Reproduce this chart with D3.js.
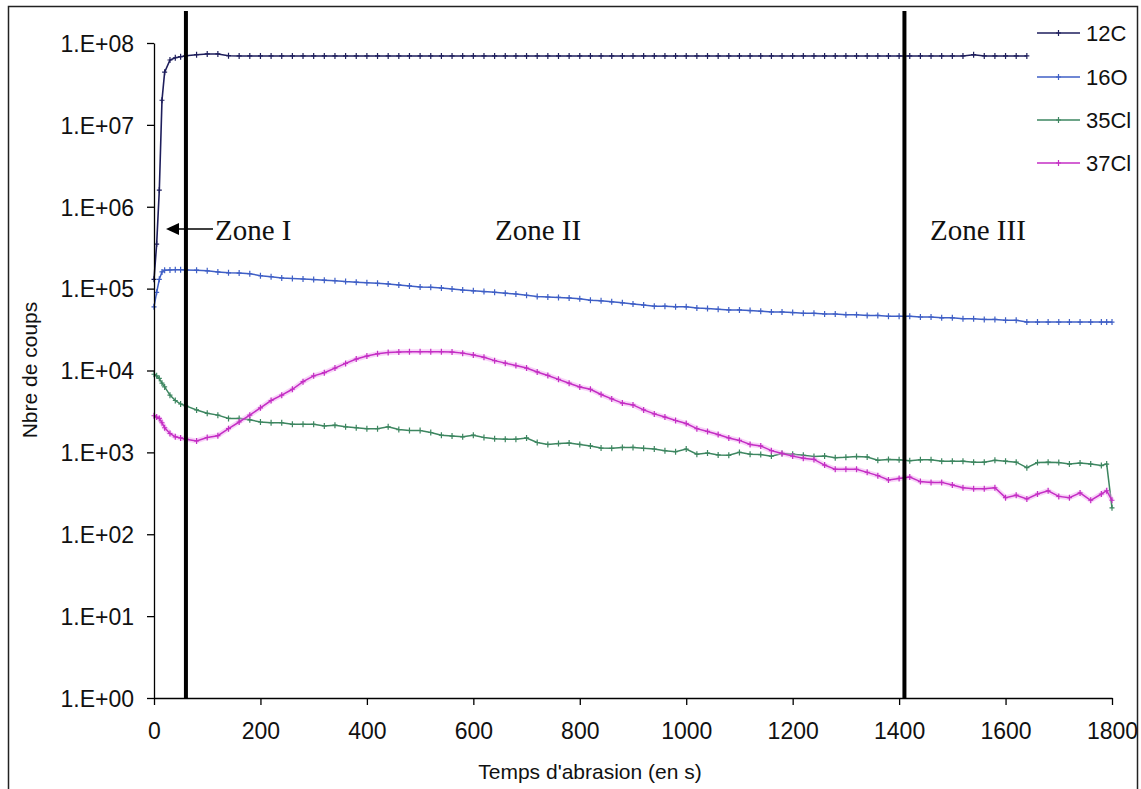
<!DOCTYPE html>
<html>
<head>
<meta charset="utf-8">
<script src="https://cdn.jsdelivr.net/npm/d3@7"></script>
<style>
  html, body { margin: 0; padding: 0; background: #fff; }
  svg { display: block; }
</style>
</head>
<body>
<svg id="chart" width="1141" height="789"></svg>
<script>
// ---------------- DATA ----------------
const times = [0, 5, 10, 15, 20, 30, 40, 50, 60,
  80, 100, 120, 140, 160, 180, 200, 220, 240, 260, 280, 300,
  320, 340, 360, 380, 400, 420, 440, 460, 480, 500,
  520, 540, 560, 580, 600, 620, 640, 660, 680, 700,
  720, 740, 760, 780, 800, 820, 840, 860, 880, 900,
  920, 940, 960, 980, 1000, 1020, 1040, 1060, 1080, 1100,
  1120, 1140, 1160, 1180, 1200, 1220, 1240, 1260, 1280, 1300,
  1320, 1340, 1360, 1380, 1400, 1420, 1440, 1460, 1480, 1500,
  1520, 1540, 1560, 1580, 1600, 1620, 1640, 1660, 1680, 1700,
  1720, 1740, 1760, 1780, 1790, 1800];

const c12 = [1.3e5, 3.5e5, 1.6e6, 2.0e7, 4.4e7, 6.2e7, 6.6e7, 6.8e7, 7.0e7,
  7.2e7, 7.35e7, 7.35e7, 7.0e7, 6.95e7, 6.95e7, 6.95e7, 6.95e7, 6.95e7, 6.95e7, 6.95e7, 6.95e7,
  6.95e7, 6.95e7, 6.95e7, 6.95e7, 6.95e7, 6.95e7, 6.95e7, 6.95e7, 6.95e7, 6.95e7,
  6.95e7, 6.95e7, 6.95e7, 6.95e7, 6.95e7, 6.95e7, 6.95e7, 6.95e7, 6.95e7, 6.95e7,
  6.95e7, 6.95e7, 6.95e7, 6.95e7, 6.95e7, 6.95e7, 6.95e7, 6.95e7, 6.95e7, 6.95e7,
  6.95e7, 6.95e7, 6.95e7, 6.95e7, 6.95e7, 6.95e7, 6.95e7, 6.95e7, 6.95e7, 6.95e7,
  6.95e7, 6.95e7, 6.95e7, 6.95e7, 6.95e7, 6.95e7, 6.95e7, 6.95e7, 6.95e7, 6.95e7,
  6.95e7, 6.95e7, 6.95e7, 6.95e7, 6.95e7, 6.95e7, 6.95e7, 6.95e7, 6.95e7, 6.95e7,
  6.95e7, 7.2e7, 6.95e7, 6.95e7, 6.95e7, 6.95e7, 6.95e7, null, null, null,
  null, null, null, null, null, null];

const o16 = [6.0e4, 9.0e4, 1.3e5, 1.6e5, 1.68e5, 1.69e5, 1.7e5, 1.7e5, 1.69e5,
  1.68e5, 1.65e5, 1.6e5, 1.56e5, 1.55e5, 1.52e5, 1.44e5, 1.4e5, 1.35e5, 1.33e5, 1.31e5, 1.29e5,
  1.27e5, 1.25e5, 1.22e5, 1.2e5, 1.18e5, 1.16e5, 1.14e5, 1.11e5, 1.08e5, 1.05e5,
  1.04e5, 1.02e5, 9.9e4, 9.6e4, 9.4e4, 9.2e4, 9.0e4, 8.8e4, 8.6e4, 8.3e4,
  8.0e4, 7.9e4, 7.8e4, 7.7e4, 7.5e4, 7.2e4, 7.1e4, 6.9e4, 6.7e4, 6.5e4,
  6.3e4, 6.1e4, 6.1e4, 6.0e4, 6.0e4, 5.8e4, 5.7e4, 5.6e4, 5.5e4, 5.5e4,
  5.4e4, 5.3e4, 5.2e4, 5.2e4, 5.1e4, 5.0e4, 5.0e4, 4.9e4, 4.9e4, 4.8e4,
  4.8e4, 4.7e4, 4.7e4, 4.6e4, 4.6e4, 4.6e4, 4.5e4, 4.5e4, 4.4e4, 4.4e4,
  4.3e4, 4.3e4, 4.2e4, 4.2e4, 4.1e4, 4.1e4, 3.9e4, 3.9e4, 3.9e4, 3.9e4,
  3.9e4, 3.9e4, 3.9e4, 3.9e4, 3.9e4, 3.9e4];

const cl35 = [9.0e3, 8.6e3, 8.0e3, 7.0e3, 6.3e3, 5.0e3, 4.3e3, 3.9e3, 3.7e3,
  3.3e3, 3.0e3, 2.85e3, 2.6e3, 2.6e3, 2.5e3, 2.35e3, 2.3e3, 2.3e3, 2.2e3, 2.2e3, 2.2e3,
  2.1e3, 2.15e3, 2.05e3, 2.0e3, 1.95e3, 1.95e3, 2.05e3, 1.9e3, 1.85e3, 1.85e3,
  1.75e3, 1.62e3, 1.58e3, 1.55e3, 1.62e3, 1.52e3, 1.47e3, 1.45e3, 1.45e3, 1.5e3,
  1.32e3, 1.25e3, 1.28e3, 1.3e3, 1.25e3, 1.2e3, 1.13e3, 1.12e3, 1.15e3, 1.15e3,
  1.12e3, 1.1e3, 1.05e3, 1.02e3, 1.1e3, 9.5e2, 9.8e2, 9.3e2, 9.2e2, 1.0e3,
  9.5e2, 9.4e2, 9.0e2, 9.7e2, 9.5e2, 9.2e2, 8.9e2, 9.0e2, 8.6e2, 8.7e2,
  8.9e2, 8.8e2, 8.0e2, 8.2e2, 8.1e2, 7.9e2, 8.1e2, 8.1e2, 7.8e2, 7.8e2,
  7.8e2, 7.6e2, 7.6e2, 8.0e2, 7.8e2, 7.6e2, 6.5e2, 7.5e2, 7.6e2, 7.5e2,
  7.2e2, 7.4e2, 7.2e2, 6.9e2, 7.2e2, 2.1e2];

const cl37 = [2.8e3, 2.7e3, 2.6e3, 2.3e3, 2.0e3, 1.7e3, 1.55e3, 1.5e3, 1.45e3,
  1.38e3, 1.52e3, 1.6e3, 1.95e3, 2.35e3, 2.85e3, 3.5e3, 4.3e3, 5.0e3, 5.9e3, 7.3e3, 8.6e3,
  9.4e3, 1.07e4, 1.22e4, 1.38e4, 1.5e4, 1.6e4, 1.66e4, 1.68e4, 1.7e4, 1.7e4,
  1.7e4, 1.7e4, 1.68e4, 1.63e4, 1.55e4, 1.45e4, 1.32e4, 1.23e4, 1.15e4, 1.07e4,
  9.6e3, 8.7e3, 7.8e3, 7.0e3, 6.3e3, 5.9e3, 5.1e3, 4.5e3, 4.0e3, 3.8e3,
  3.3e3, 2.95e3, 2.7e3, 2.45e3, 2.25e3, 1.95e3, 1.8e3, 1.65e3, 1.5e3, 1.4e3,
  1.25e3, 1.2e3, 1.05e3, 9.7e2, 9.0e2, 8.5e2, 8.2e2, 7.0e2, 6.2e2, 6.2e2,
  6.2e2, 5.7e2, 5.2e2, 4.6e2, 4.8e2, 5.0e2, 4.4e2, 4.3e2, 4.3e2, 4.0e2,
  3.7e2, 3.6e2, 3.6e2, 3.7e2, 2.8e2, 3.0e2, 2.7e2, 3.1e2, 3.4e2, 2.9e2,
  2.8e2, 3.2e2, 2.6e2, 3.1e2, 3.4e2, 2.6e2];

const seriesNames = ["12C", "16O", "35Cl", "37Cl"];
const seriesColors = ["#1e1e5c", "#3f5fc6", "#3d8660", "#c42ec4"];
const seriesValues = [c12, o16, cl35, cl37];

const xTicks = [0, 200, 400, 600, 800, 1000, 1200, 1400, 1600, 1800];
const yTicks = [1e0, 1e1, 1e2, 1e3, 1e4, 1e5, 1e6, 1e7, 1e8];
const yTickLabels = ["1.E+00", "1.E+01", "1.E+02", "1.E+03", "1.E+04", "1.E+05", "1.E+06", "1.E+07", "1.E+08"];
const zoneBounds = [60, 1410];
const zoneLabels = ["Zone I", "Zone II", "Zone III"];
const xTitle = "Temps d'abrasion (en s)";
const yTitle = "Nbre de coups";

// ---------------- DRAW ----------------
(function () {
const svg = d3.select("#chart");
const FONT = "Liberation Sans, Arial, Helvetica, sans-serif";
const SERIF = "Liberation Serif, 'Times New Roman', Times, serif";

const pLeft = 154, pRight = 1112, pTop = 43, pBottom = 698;
const x = d3.scaleLinear().domain([0, 1800]).range([pLeft, pRight]);
const y = d3.scaleLog().domain([1, 1e8]).range([pBottom, pTop]);

// outer frame
svg.append("rect").attr("x", 8.5).attr("y", 6.5).attr("width", 1129).attr("height", 790)
  .attr("fill", "none").attr("stroke", "#222").attr("stroke-width", 1.5);

// series
const line = d3.line()
  .defined(d => d.v != null)
  .x(d => x(d.t)).y(d => y(d.v));

seriesValues.forEach((vals, i) => {
  const data = times.map((t, k) => ({ t, v: vals[k] }));
  const g = svg.append("g");
  if (i === 3) {
    g.append("path").datum(data).attr("d", line)
      .attr("fill", "none").attr("stroke", "#f0a0f0").attr("stroke-width", 5).attr("opacity", 0.45);
  }
  g.append("path").datum(data).attr("d", line)
    .attr("fill", "none").attr("stroke", seriesColors[i]).attr("stroke-width", i === 0 ? 1.6 : 1.5);
  const pts = data.filter(d => d.v != null);
  g.selectAll("path.mk").data(pts).join("path")
    .attr("class", "mk")
    .attr("d", d => {
      const px = x(d.t), py = y(d.v);
      return `M${px - 2.5},${py}H${px + 2.5}M${px},${py - 3}V${py + 3}`;
    })
    .attr("stroke", seriesColors[i]).attr("stroke-width", 1.2).attr("fill", "none");
});

// zone boundaries
svg.selectAll("line.zone").data(zoneBounds).join("line")
  .attr("class", "zone")
  .attr("x1", d => x(d)).attr("x2", d => x(d))
  .attr("y1", 11).attr("y2", pBottom)
  .attr("stroke", "#000").attr("stroke-width", 4);

// axes
const yAxis = d3.axisLeft(y).tickValues(yTicks)
  .tickFormat((d, i) => yTickLabels[i]).tickSize(7).tickSizeOuter(0).tickPadding(13);
const gy = svg.append("g").attr("transform", `translate(${pLeft},0)`).call(yAxis);
const xAxis = d3.axisBottom(x).tickValues(xTicks).tickFormat(d3.format("d"))
  .tickSize(7).tickSizeOuter(0).tickPadding(18);
const gx = svg.append("g").attr("transform", `translate(0,${pBottom})`).call(xAxis);

[gx, gy].forEach(g => {
  g.select(".domain").attr("stroke", "#000").attr("stroke-width", 1.3);
  g.selectAll(".tick line").attr("stroke", "#000").attr("stroke-width", 1.3);
  g.selectAll(".tick text").attr("fill", "#111")
    .style("font-family", FONT).style("font-size", "23px");
});
gy.selectAll(".tick text").attr("dy", "0.36em");

// axis titles
svg.append("text").attr("x", 590).attr("y", 779)
  .attr("text-anchor", "middle").style("font-family", FONT).style("font-size", "21px")
  .attr("fill", "#111").text(xTitle);
svg.append("text").attr("transform", "translate(37,370) rotate(-90)")
  .attr("text-anchor", "middle").style("font-family", FONT).style("font-size", "21px")
  .attr("fill", "#111").text(yTitle);

// zone labels + arrow
const zonePos = [[215, 240], [495, 240], [930, 240]];
zoneLabels.forEach((lab, i) => {
  svg.append("text").attr("x", zonePos[i][0]).attr("y", zonePos[i][1])
    .style("font-family", SERIF).style("font-size", "29px").attr("fill", "#111").text(lab);
});
svg.append("line").attr("x1", 213).attr("x2", 176).attr("y1", 229).attr("y2", 229)
  .attr("stroke", "#000").attr("stroke-width", 1.5);
svg.append("path").attr("d", "M166,229L179,223L179,235Z").attr("fill", "#000");

// legend
const legY = [33, 77, 120, 163];
seriesNames.forEach((n, i) => {
  const g = svg.append("g");
  g.append("line").attr("x1", 1037).attr("x2", 1080).attr("y1", legY[i]).attr("y2", legY[i])
    .attr("stroke", seriesColors[i]).attr("stroke-width", 1.5);
  g.append("path").attr("d", `M1056,${legY[i]}H1061M1058.5,${legY[i] - 3}V${legY[i] + 3}`)
    .attr("stroke", seriesColors[i]).attr("stroke-width", 1.2);
  g.append("text").attr("x", 1086).attr("y", legY[i]).attr("dy", "0.36em")
    .style("font-family", FONT).style("font-size", "22px").attr("fill", "#111").text(n);
});
})();
</script>
</body>
</html>
